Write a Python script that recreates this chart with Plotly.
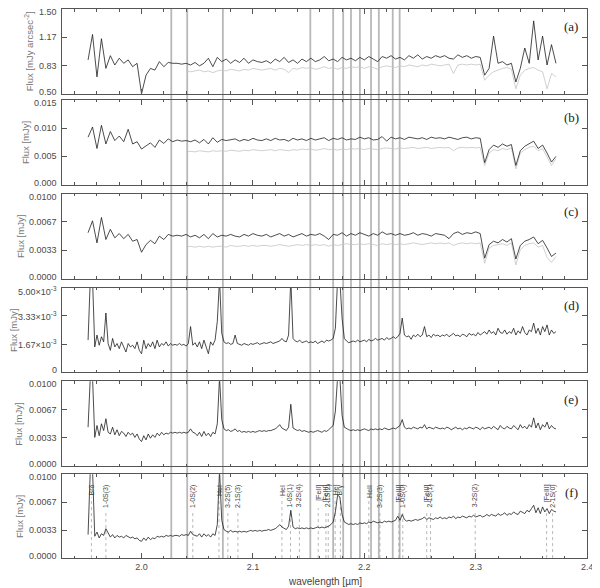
import plotly.graph_objects as go

# wavelength grid (micron) used for panels (a)-(c)
wave_ac = [
    1.952, 1.956, 1.960, 1.964, 1.968, 1.972, 1.976, 1.980, 1.984, 1.988,
    1.992, 1.996, 2.000, 2.004, 2.008, 2.012, 2.016, 2.020, 2.024, 2.028,
    2.032, 2.036, 2.040, 2.044, 2.048, 2.052, 2.056, 2.060, 2.064, 2.068,
    2.072, 2.076, 2.080, 2.084, 2.088, 2.092, 2.096, 2.100, 2.104, 2.108,
    2.112, 2.116, 2.120, 2.124, 2.128, 2.132, 2.136, 2.140, 2.144, 2.148,
    2.152, 2.156, 2.160, 2.164, 2.168, 2.172, 2.176, 2.180, 2.184, 2.188,
    2.192, 2.196, 2.200, 2.204, 2.208, 2.212, 2.216, 2.220, 2.224, 2.228,
    2.232, 2.236, 2.240, 2.244, 2.248, 2.252, 2.256, 2.260, 2.264, 2.268,
    2.272, 2.276, 2.280, 2.284, 2.288, 2.292, 2.296, 2.300, 2.304, 2.308,
    2.312, 2.316, 2.320, 2.324, 2.328, 2.332, 2.336, 2.340, 2.344, 2.348,
    2.352, 2.356, 2.360, 2.364, 2.368, 2.372,
]

# finer wavelength grid (micron) used for panels (d)-(f)
wave_df = [
    1.952, 1.954, 1.956, 1.958, 1.960, 1.962, 1.964, 1.966, 1.968, 1.970,
    1.972, 1.974, 1.976, 1.978, 1.980, 1.982, 1.984, 1.986, 1.988, 1.990,
    1.992, 1.994, 1.996, 1.998, 2.000, 2.002, 2.004, 2.006, 2.008, 2.010,
    2.012, 2.014, 2.016, 2.018, 2.020, 2.022, 2.024, 2.026, 2.028, 2.030,
    2.032, 2.034, 2.036, 2.038, 2.040, 2.042, 2.044, 2.046, 2.048, 2.050,
    2.052, 2.054, 2.056, 2.058, 2.060, 2.062, 2.064, 2.066, 2.068, 2.070,
    2.072, 2.074, 2.076, 2.078, 2.080, 2.082, 2.084, 2.086, 2.088, 2.090,
    2.092, 2.094, 2.096, 2.098, 2.100, 2.102, 2.104, 2.106, 2.108, 2.110,
    2.112, 2.114, 2.116, 2.118, 2.120, 2.122, 2.124, 2.126, 2.128, 2.130,
    2.132, 2.134, 2.136, 2.138, 2.140, 2.142, 2.144, 2.146, 2.148, 2.150,
    2.152, 2.154, 2.156, 2.158, 2.160, 2.162, 2.164, 2.166, 2.168, 2.170,
    2.172, 2.174, 2.176, 2.178, 2.180, 2.182, 2.184, 2.186, 2.188, 2.190,
    2.192, 2.194, 2.196, 2.198, 2.200, 2.202, 2.204, 2.206, 2.208, 2.210,
    2.212, 2.214, 2.216, 2.218, 2.220, 2.222, 2.224, 2.226, 2.228, 2.230,
    2.232, 2.234, 2.236, 2.238, 2.240, 2.242, 2.244, 2.246, 2.248, 2.250,
    2.252, 2.254, 2.256, 2.258, 2.260, 2.262, 2.264, 2.266, 2.268, 2.270,
    2.272, 2.274, 2.276, 2.278, 2.280, 2.282, 2.284, 2.286, 2.288, 2.290,
    2.292, 2.294, 2.296, 2.298, 2.300, 2.302, 2.304, 2.306, 2.308, 2.310,
    2.312, 2.314, 2.316, 2.318, 2.320, 2.322, 2.324, 2.326, 2.328, 2.330,
    2.332, 2.334, 2.336, 2.338, 2.340, 2.342, 2.344, 2.346, 2.348, 2.350,
    2.352, 2.354, 2.356, 2.358, 2.360, 2.362, 2.364, 2.366, 2.368, 2.370,
    2.372,
]

# (a) mJy arcsec^-2
flux_a = [
    0.90, 1.20, 0.70, 1.15, 0.80, 0.95, 0.84, 0.92, 0.86, 0.90,
    0.82, 0.86, 0.50, 0.72, 0.80, 0.78, 0.88, 0.82, 0.87, 0.86,
    0.86, 0.85, 0.86, 0.84, 0.87, 0.83, 0.86, 0.92, 0.82, 0.93,
    0.88, 0.91, 0.86, 0.90, 0.87, 0.92, 0.86, 0.90, 0.88, 0.87,
    0.89, 0.86, 0.91, 0.88, 0.93, 0.87, 0.90, 0.86, 0.91, 0.88,
    0.92, 0.88, 0.90, 0.94, 0.89, 0.91, 0.88, 0.93, 0.90, 0.92,
    0.89, 0.93, 0.90, 0.94, 0.91, 0.88, 0.94, 0.92, 0.95, 0.91,
    0.93, 0.90, 0.95, 0.92, 0.96, 0.91, 0.94, 0.92, 0.95, 0.93,
    0.95, 0.92, 0.91, 0.96, 0.93, 0.95, 0.92, 0.94, 0.93, 0.72,
    0.80, 1.18, 0.86, 0.88, 0.84, 0.86, 0.64, 0.80, 1.04, 0.86,
    1.36, 0.90, 1.18, 0.84, 1.08, 0.86,
]
flux_a_grey = [
    None, None, None, None, None, None, None, None, None, None,
    None, None, None, None, None, None, None, None, None, None,
    None, None, 0.77, 0.76, 0.77, 0.78, 0.76, 0.77, 0.75, 0.77,
    0.78, 0.77, 0.79, 0.78, 0.77, 0.79, 0.78, 0.80, 0.79, 0.78,
    0.79, 0.80, 0.78, 0.80, 0.79, 0.75, 0.80, 0.79, 0.81, 0.80,
    0.81, 0.79, 0.80, 0.82, 0.80, 0.81, 0.79, 0.81, 0.80, 0.82,
    0.81, 0.82, 0.80, 0.82, 0.81, 0.79, 0.82, 0.83, 0.82, 0.81,
    0.83, 0.82, 0.84, 0.83, 0.82, 0.84, 0.83, 0.85, 0.84, 0.83,
    0.84, 0.85, 0.74, 0.84, 0.85, 0.84, 0.85, 0.84, 0.85, 0.66,
    0.72, 0.76, 0.78, 0.80, 0.81, 0.79, 0.56, 0.72, 0.78, 0.80,
    0.81, 0.78, 0.76, 0.56, 0.74, 0.70,
]

# (b) to (f) in units of 1e-3 mJy
flux_b = [
    8.4, 10.2, 6.4, 10.5, 7.2, 9.4, 7.8, 8.6, 7.6, 9.8,
    7.2, 7.6, 6.3, 6.8, 7.4, 6.6, 7.9, 7.3, 8.1, 7.6,
    7.9, 7.7, 7.8, 7.6, 7.9, 7.4, 8.0, 7.2, 8.3, 7.5,
    8.0, 7.8, 7.9, 8.1, 7.7, 8.0, 7.8, 8.2, 7.9, 7.8,
    8.1, 7.8, 8.2, 7.9, 8.0, 7.7, 8.2, 7.9, 8.1, 7.8,
    8.2, 7.9, 8.1, 8.3, 7.8, 8.2, 8.0, 8.3, 7.9, 8.1,
    8.0, 8.4, 8.1, 8.3, 7.9, 8.0, 8.5, 7.7, 8.4, 8.1,
    8.3, 8.0, 8.4, 8.2, 8.1, 8.3, 8.0, 8.4, 8.2, 8.3,
    8.1, 8.4, 8.2, 8.0, 8.3, 8.4, 8.1, 8.3, 8.2, 3.9,
    6.2, 7.0, 6.6, 7.2, 6.8, 7.1, 3.4, 6.0, 6.8, 7.3,
    7.7, 6.4, 7.0, 5.6, 4.0, 5.0,
]
flux_b_grey = [
    None, None, None, None, None, None, None, None, None, None,
    None, None, None, None, None, None, None, None, None, None,
    None, None, 5.8, 5.9, 5.8, 6.0, 5.9, 5.8, 6.0, 5.9,
    6.0, 5.9, 6.1, 6.0, 5.9, 6.1, 6.0, 6.2, 6.1, 6.0,
    6.1, 6.2, 6.0, 6.2, 6.1, 6.0, 6.2, 6.1, 6.3, 6.2,
    6.3, 6.1, 6.2, 6.4, 6.2, 6.3, 6.1, 6.3, 6.2, 6.4,
    6.3, 6.4, 6.2, 6.4, 6.3, 6.2, 6.4, 6.5, 6.4, 6.3,
    6.5, 6.4, 6.5, 6.6, 6.4, 6.5, 6.6, 6.4, 6.5, 6.6,
    6.5, 6.6, 6.0, 6.5, 6.6, 6.5, 6.6, 6.5, 6.6, 3.4,
    5.6, 6.2, 6.0, 6.4, 6.2, 6.5, 2.8, 5.6, 6.2, 6.6,
    6.8, 6.0, 6.4, 4.8, 3.4, 4.6,
]
flux_c = [
    5.4, 6.8, 4.2, 7.2, 4.6, 5.8, 4.8, 5.3, 4.7, 5.2,
    4.4, 4.6, 3.1, 4.0, 4.5, 4.1, 5.0, 4.6, 5.2, 5.0,
    5.1, 5.0, 5.2, 4.9, 5.1, 4.8, 5.2, 4.7, 5.3, 4.9,
    5.1, 5.0, 5.2, 5.0, 4.9, 5.2, 5.0, 5.3, 5.1, 5.0,
    5.2, 4.9, 5.1, 5.3, 5.0, 5.2, 4.9, 5.1, 5.3, 5.0,
    5.2, 5.1, 5.3, 5.0, 4.6, 5.2, 5.1, 5.4, 5.0, 5.3,
    5.1, 5.4, 5.2, 5.0, 5.3, 5.1, 5.5, 5.2, 5.3, 5.1,
    5.3, 5.1, 5.2, 5.4, 5.1, 5.3, 5.2, 5.0, 5.3, 5.2,
    5.1, 4.7, 5.3, 5.5, 5.2, 5.4, 5.3, 5.5, 5.3, 2.4,
    4.0, 4.4, 4.2, 4.6, 4.3, 4.7, 2.3, 3.9, 4.4, 4.6,
    4.9, 4.1, 4.5, 3.6, 2.6, 3.0,
]
flux_c_grey = [
    None, None, None, None, None, None, None, None, None, None,
    None, None, None, None, None, None, None, None, None, None,
    None, None, 3.7, 3.8, 3.7, 3.8, 3.7, 3.8, 3.7, 3.8,
    3.8, 3.7, 3.9, 3.8, 3.8, 3.9, 3.8, 3.9, 3.8, 3.9,
    3.9, 3.8, 3.9, 4.0, 3.9, 3.8, 3.9, 4.0, 3.9, 4.0,
    3.9, 4.0, 3.9, 4.0, 3.8, 4.0, 3.9, 4.0, 4.1, 4.0,
    4.0, 4.1, 4.0, 4.1, 4.0, 3.9, 4.1, 4.0, 4.1, 4.0,
    4.1, 4.0, 4.1, 4.2, 4.1, 4.0, 4.1, 4.2, 4.1, 4.2,
    4.1, 4.2, 3.9, 4.1, 4.2, 4.1, 4.2, 4.1, 4.2, 1.8,
    3.6, 3.9, 4.0, 4.1, 3.9, 4.2, 1.6, 3.4, 3.9, 4.1,
    4.2, 3.7, 3.9, 2.5, 1.9, 2.6,
]
flux_d = [
    1.9, 5.5, 5.5, 1.5, 2.2, 1.6, 2.1, 1.8, 3.5, 1.7,
    1.3, 2.0, 1.5, 1.7, 1.4, 1.8, 1.5, 1.2, 1.7, 1.5,
    1.6, 1.4, 1.8, 1.3, 1.1, 1.9, 1.4, 1.7, 1.5, 1.8,
    1.4, 1.9, 1.5, 1.7, 1.6, 1.8, 1.55, 1.7, 1.6, 1.65,
    1.6, 1.7, 1.6, 1.65, 1.55, 1.7, 2.7, 1.6, 1.75, 1.5,
    1.8, 1.4, 1.9, 1.5, 1.1, 1.8, 1.6, 1.9, 3.0, 5.5,
    2.3, 1.8, 1.7, 1.75, 1.65, 1.7, 2.2, 1.7, 1.65, 1.6,
    1.7, 1.65, 1.6, 1.7, 1.65, 1.7, 1.75, 1.65, 1.7, 1.75,
    1.7, 1.75, 1.8, 1.7, 1.75, 1.8, 1.85, 2.0, 1.85, 1.8,
    2.2, 5.5, 2.0, 1.85, 1.8, 1.9, 1.75, 1.8, 1.85, 1.75,
    1.8, 1.75, 1.85, 1.7, 1.8, 1.85, 1.75, 1.9, 1.85, 1.9,
    2.0, 2.6, 5.5, 5.5, 3.2, 2.0, 1.85, 1.75, 1.8, 1.85,
    1.8, 1.9, 1.8, 1.85, 1.9, 1.8, 1.95, 1.85, 1.9, 2.0,
    1.9, 1.95, 2.0, 1.9, 2.05, 1.95, 2.0, 2.1, 2.0, 2.1,
    2.3, 3.2, 2.2, 2.1, 2.15, 1.95, 2.2, 2.1, 2.25, 2.1,
    2.2, 2.7, 2.1, 2.2, 2.05, 2.25, 2.15, 2.2, 2.1, 2.2,
    2.15, 2.25, 2.1, 2.2, 2.3, 2.15, 2.2, 2.1, 2.25, 2.2,
    2.1, 2.3, 2.2, 2.25, 2.15, 2.35, 2.2, 2.3, 2.4, 2.25,
    2.5, 2.3, 2.4, 2.2, 2.6, 2.35, 2.3, 2.5, 2.25, 2.4,
    2.3, 2.6, 2.2, 2.45, 2.3, 2.7, 2.35, 2.2, 2.5, 2.4,
    2.9, 2.3, 2.6, 2.2, 2.7, 2.4, 2.8, 2.2, 2.5, 2.3,
    2.4,
]
flux_e = [
    4.6, 10.5, 10.5, 3.4, 4.8, 3.6, 5.0, 4.2, 5.6, 4.0,
    3.8, 4.6, 3.7, 4.3, 3.6, 4.1, 3.9, 3.5, 4.0, 3.7,
    3.9, 3.4, 3.8, 3.2, 2.9, 3.6, 3.1, 3.8, 3.3, 3.7,
    3.4, 3.9, 3.6, 4.0, 3.7, 3.9, 3.8, 4.0, 3.9, 4.0,
    3.9, 4.0, 3.9, 4.0, 3.9, 4.0, 4.4, 4.0, 3.9, 3.6,
    4.0, 3.5, 4.1, 3.6, 3.9, 3.5, 4.0, 3.8, 5.0, 10.5,
    5.5, 4.4, 4.2, 4.3, 4.1, 4.2, 4.4, 4.1, 4.2, 4.0,
    4.1, 4.0, 4.1, 4.0, 4.1, 4.0, 4.1, 4.2, 4.1, 4.2,
    4.1, 4.2, 4.2, 4.3, 4.4, 4.6, 4.9, 4.5, 4.3, 4.2,
    4.6, 7.3, 4.5, 4.3, 4.2, 4.3, 4.1, 4.2, 4.1, 4.0,
    4.1, 4.0, 4.1, 4.2, 4.1, 4.0, 4.2, 4.1, 4.3, 4.5,
    4.8, 6.5, 10.5, 10.5, 6.0, 4.6, 4.4, 4.3, 4.2, 4.3,
    4.2, 4.3, 4.2, 4.3, 4.4, 4.3, 4.2, 4.4, 4.3, 4.4,
    4.3, 4.4, 4.3, 4.5, 4.4, 4.3, 4.4, 4.5, 4.4, 4.6,
    4.8, 5.5, 4.6, 4.4, 4.5, 4.4, 4.6, 4.5, 4.4, 4.6,
    4.5, 4.9, 4.4, 4.6, 4.5, 4.4, 4.6, 4.5, 4.4, 4.5,
    4.4, 4.6, 4.5, 4.3, 4.5, 4.6, 4.4, 4.5, 4.3, 4.5,
    4.4, 4.6, 4.5, 4.4, 4.6, 4.5, 4.3, 4.6, 4.4, 4.5,
    4.6, 4.4, 4.7, 4.5, 4.3, 4.8, 4.5, 4.4, 4.7, 4.5,
    4.4, 4.8, 4.5, 4.3, 4.9, 4.5, 4.7, 4.4, 4.9, 4.6,
    5.7, 4.5, 5.1, 4.3, 4.9, 4.6, 5.2, 4.4, 4.8, 4.5,
    4.4,
]
flux_f = [
    2.8, 10.5, 10.5, 2.6, 3.1, 2.4, 2.9, 2.7, 3.5, 2.9,
    2.5, 2.8, 2.4, 2.7, 2.5, 2.6, 2.4, 2.7, 2.5, 2.4,
    2.5, 2.3, 2.4, 2.1, 2.0, 2.4, 2.1, 2.5, 2.2, 2.4,
    2.3, 2.6, 2.5, 2.6, 2.5, 2.7, 2.6, 2.7, 2.6, 2.7,
    2.7, 2.6, 2.8, 2.7, 2.8, 2.7, 3.2, 2.8, 2.7, 2.6,
    2.9, 2.5, 2.9, 2.6, 2.8, 2.5, 2.9, 2.7, 4.0, 10.5,
    4.5, 3.4, 3.2, 3.1, 3.3, 3.1, 3.2, 3.1, 3.2, 3.1,
    3.2, 3.1, 3.2, 3.3, 3.2, 3.3, 3.2, 3.3, 3.2, 3.3,
    3.3, 3.4, 3.3, 3.4, 3.5, 3.7, 4.0, 3.7, 3.5, 3.4,
    3.8, 5.7, 3.7, 3.5, 3.6, 3.5, 3.6, 3.5, 3.6, 3.5,
    3.6, 3.5, 3.6, 3.7, 3.6, 3.7, 3.6, 3.7, 3.8, 4.0,
    4.3, 5.5, 7.5, 7.3, 5.2, 4.3, 4.1, 4.0, 4.1, 4.0,
    4.1, 4.0, 4.2, 4.1, 4.2, 4.1, 4.3, 4.2, 4.4, 4.3,
    4.2, 4.3, 4.2, 4.4, 4.3, 4.4, 4.3, 4.4, 4.5, 5.0,
    4.5, 5.2, 4.6, 4.4, 4.5, 4.4, 4.5, 4.6, 4.5, 4.6,
    4.7, 4.9, 4.6, 4.8, 4.7, 4.6, 4.8, 4.7, 4.9, 4.7,
    4.8, 4.7, 4.9, 4.8, 5.0, 4.7, 4.9, 4.8, 5.0, 4.9,
    4.8, 5.0, 4.9, 5.1, 4.9, 5.0, 5.1, 4.9, 5.0, 5.2,
    5.0, 5.2, 5.1, 5.0, 5.3, 5.1, 5.2, 5.4, 5.1, 5.3,
    5.2, 5.5, 5.3, 5.2, 5.6, 5.4, 5.3, 5.7, 5.5, 5.9,
    6.3, 5.4, 6.0, 5.3, 6.1, 5.5, 5.9, 5.3, 5.8, 5.6,
    5.5,
]

# wavelengths of the masked regions (solid grey lines through all panels)
mask_lines = [2.0267, 2.041, 2.073, 2.1515, 2.172, 2.181, 2.188,
              2.196, 2.206, 2.213, 2.2255, 2.2317]

# line identifications in panel (f)
line_names = ["Brδ", "1-0S(3)", "1-0S(2)", "HeI", "3-2S(5)", "2-1S(3)",
              "HeI", "1-0S(1)", "3-2S(4)", "[FeII]", "[FeIII]", "2-1S(2)",
              "HeI", "Brγ", "HeII", "3-2S(3)", "[FeIII]", "1-0S(0)",
              "[FeIII]", "2-1S(1)", "3-2S(2)", "[FeIII]", "2-1S(0)"]
line_waves = [1.955, 1.968, 2.046, 2.0695, 2.0775, 2.0865,
              2.126, 2.1337, 2.1417, 2.1586, 2.1655, 2.1676,
              2.1738, 2.1785, 2.204, 2.214, 2.231, 2.2345,
              2.256, 2.2594, 2.2995, 2.3636, 2.369]

c_ticks = ["0.0000", "0.0033", "0.0067", "0.0100"]
panels = [
    dict(tag="(a)", x=wave_ac, black=flux_a, grey=flux_a_grey, rng=[0.5, 1.5],
         tv=[0.5, 0.8333, 1.1667, 1.5], tt=["0.50", "0.83", "1.17", "1.50"],
         title="Flux [mJy arcsec<sup>-2</sup>]", tx=30, px=(8, 93)),
    dict(tag="(b)", x=wave_ac, black=flux_b, grey=flux_b_grey, rng=[0, 15],
         tv=[0, 5, 10, 15], tt=["0.000", "0.005", "0.010", "0.015"],
         title="Flux [mJy]", tx=25, px=(99, 184)),
    dict(tag="(c)", x=wave_ac, black=flux_c, grey=flux_c_grey, rng=[0, 10],
         tv=[0, 3.333, 6.667, 10], tt=c_ticks, title="Flux [mJy]", tx=20,
         px=(193, 278)),
    dict(tag="(d)", x=wave_df, black=flux_d, grey=None, rng=[0, 5],
         tv=[0, 1.6667, 3.3333, 5],
         tt=["0", "1.67×10<sup>-3</sup>", "3.33×10<sup>-3</sup>", "5.00×10<sup>-3</sup>"],
         title="Flux [mJy]", tx=14, px=(287, 372)),
    dict(tag="(e)", x=wave_df, black=flux_e, grey=None, rng=[0, 10],
         tv=[0, 3.333, 6.667, 10], tt=c_ticks, title="Flux [mJy]", tx=19,
         px=(381, 466)),
    dict(tag="(f)", x=wave_df, black=flux_f, grey=None, rng=[0, 10],
         tv=[0, 3.333, 6.667, 10], tt=c_ticks, title="Flux [mJy]", tx=19,
         px=(474, 558)),
]

W, H = 600, 588
OFF = 8  # the page body margin shifts the figure by 8 px right and down
X0, X1 = 63, 593


def fx(px):
    """screen pixel -> paper x"""
    return (px - OFF) / W


def fy(py):
    """screen pixel -> paper y"""
    return 1 - (py - OFF) / H


tick_font = dict(family="Liberation Sans", size=9, color="#4a4a4a")
axis_col = "#555"

fig = go.Figure()
annotations = []
shapes = []

for i, p in enumerate(panels, start=1):
    sfx = "" if i == 1 else str(i)
    if p["grey"] is not None:
        fig.add_trace(go.Scatter(x=p["x"], y=p["grey"], mode="lines",
                                 line=dict(color="#c4c4c4", width=0.8),
                                 xaxis="x" + sfx, yaxis="y" + sfx))
    fig.add_trace(go.Scatter(x=p["x"], y=p["black"], mode="lines",
                             line=dict(color="#1e1e1e", width=0.8),
                             xaxis="x" + sfx, yaxis="y" + sfx))
    top, bot = p["px"]
    fig.layout["xaxis" + sfx] = dict(
        domain=[fx(X0), fx(X1)], range=[1.929, 2.4], anchor="y" + sfx,
        tickvals=[2.0, 2.1, 2.2, 2.3, 2.4], ticktext=["2.0", "2.1", "2.2", "2.3", "2.4"],
        showticklabels=(i == 6), ticks="inside", ticklen=5, tickcolor=axis_col,
        showline=True, linecolor=axis_col, linewidth=1, mirror="ticks",
        showgrid=False, zeroline=False, tickfont=tick_font,
        minor=dict(ticks="inside", ticklen=2.5, dtick=0.02, tickcolor=axis_col),
    )
    fig.layout["yaxis" + sfx] = dict(
        domain=[fy(bot), min(1.0, fy(top))], range=p["rng"], anchor="x" + sfx,
        tickvals=p["tv"], showticklabels=False, ticks="inside", ticklen=5,
        tickcolor=axis_col, showline=True, linecolor=axis_col, linewidth=1,
        mirror="ticks", showgrid=False, zeroline=False,
    )
    # y tick labels, nudged inward at the panel edges as in the original
    for k, (v, t) in enumerate(zip(p["tv"], p["tt"])):
        shift = 2 if k == 0 else (-3 if k == len(p["tv"]) - 1 else 0)
        annotations.append(dict(text=t, xref="paper", yref="y" + sfx,
                                x=fx(60), y=v, xanchor="right", yanchor="middle",
                                yshift=shift, showarrow=False, font=tick_font))
    annotations.append(dict(text=p["tag"], xref="paper", yref="paper",
                            x=fx(577), y=fy(top + 18), showarrow=False,
                            xanchor="center", yanchor="middle",
                            font=dict(family="Liberation Serif", size=13, color="#222")))
    annotations.append(dict(text=p["title"], xref="paper", yref="paper",
                            x=fx(p["tx"]), y=fy((top + bot) / 2), textangle=-90,
                            xanchor="center", yanchor="middle", showarrow=False,
                            font=dict(family="Liberation Sans", size=9.5, color="#777")))

# solid grey lines across all panels
for w in mask_lines:
    shapes.append(dict(type="line", xref="x6", yref="paper", x0=w, x1=w,
                       y0=fy(558), y1=fy(8),
                       line=dict(color="#b8b8b8", width=1.8), layer="below"))

# labelled lines in panel (f)
f_scale = 10 / (558 - 474)  # data units per pixel
label_top = 9.0
for name, w in zip(line_names, line_waves):
    annotations.append(dict(text=name, xref="x6", yref="y6", x=w, y=label_top,
                            textangle=-90, yanchor="top", xanchor="center",
                            showarrow=False,
                            font=dict(family="Liberation Sans", size=7, color="#444")))
    length_px = len(name) * 3.6 + 4
    shapes.append(dict(type="line", xref="x6", yref="y6", x0=w, x1=w, y0=0,
                       y1=label_top - length_px * f_scale,
                       line=dict(color="#999", width=0.7, dash="dot"), layer="below"))

annotations.append(dict(text="wavelength [µm]", xref="paper", yref="paper",
                        x=fx((X0 + X1) / 2), y=fy(581), showarrow=False,
                        xanchor="center", yanchor="middle",
                        font=dict(family="Liberation Sans", size=10, color="#444")))

fig.update_layout(
    width=W, height=H, margin=dict(l=0, r=0, t=0, b=0),
    paper_bgcolor="white", plot_bgcolor="white", showlegend=False,
    annotations=annotations, shapes=shapes,
)

fig.write_html("out.html")
